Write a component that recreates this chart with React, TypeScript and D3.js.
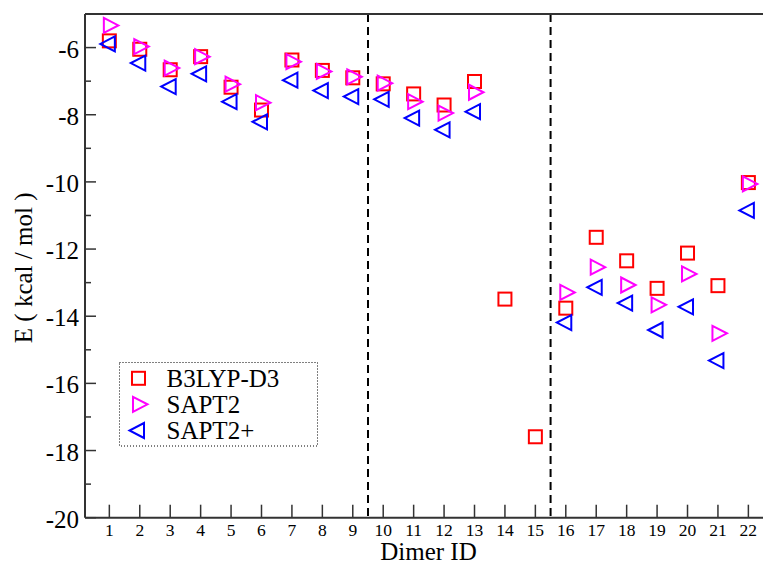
import React from "react";
import * as d3 from "d3";

// Interaction energies (kcal/mol) per dimer
const dimerIds = [1, 2, 3, 4, 5, 6, 7, 8, 9, 10, 11, 12, 13, 14, 15, 16, 17, 18, 19, 20, 21, 22];
const b3lypD3: (number | null)[] = [
  -5.80, -6.05, -6.66, -6.27, -7.18, -7.86, -6.37, -6.68, -6.90, -7.08, -7.38,
  -7.71, -7.01, -13.49, -17.59, -13.76, -11.65, -12.35, -13.17, -12.12, -13.09, -10.02,
];
const sapt2: (number | null)[] = [
  -5.34, -5.97, -6.61, -6.27, -7.09, -7.64, -6.42, -6.71, -6.87, -7.06, -7.61,
  -7.95, -7.33, null, null, -13.29, -12.54, -13.07, -13.66, -12.74, -14.51, -10.06,
];
const sapt2Plus: (number | null)[] = [
  -5.89, -6.46, -7.16, -6.78, -7.61, -8.21, -6.97, -7.28, -7.46, -7.54, -8.10,
  -8.45, -7.91, null, null, -14.19, -13.14, -13.61, -14.41, -13.72, -15.32, -10.85,
];
const separators = [9.5, 15.5];
const yMajorTicks = [-20, -18, -16, -14, -12, -10, -8, -6];
const yMinorTicks = [-19, -17, -15, -13, -11, -9, -7, -5];
const seriesNames = ["B3LYP-D3", "SAPT2", "SAPT2+"];

const W = 763;
const H = 565;
const left = 85;
const top = 14;
const bottom = 517.7;
const xDomain: [number, number] = [0.2, 22.8];
const plotRight = left + (xDomain[1] - xDomain[0]) * 30.43;

const font = "Liberation Serif, DejaVu Serif, serif";
const axisColor = "#333";

type Shape = "square" | "right" | "left";

function Marker({ shape, x, y, color }: { shape: Shape; x: number; y: number; color: string }) {
  if (shape === "square") {
    return <rect x={x - 6.5} y={y - 6.5} width={13} height={13} fill="none" stroke={color} strokeWidth={2} />;
  }
  const pts =
    shape === "right"
      ? [[x - 5.5, y - 7.5], [x - 5.5, y + 7.5], [x + 9, y]]
      : [[x + 5.5, y - 7.5], [x + 5.5, y + 7.5], [x - 9, y]];
  return (
    <polygon
      points={pts.map((p) => p.join(",")).join(" ")}
      fill="none"
      stroke={color}
      strokeWidth={2}
      strokeLinejoin="miter"
    />
  );
}

export default function App() {
  const x = d3.scaleLinear().domain(xDomain).range([left, plotRight]);
  const y = d3.scaleLinear().domain([-20, -5]).range([bottom, top]);

  const series: { name: string; values: (number | null)[]; shape: Shape; color: string }[] = [
    { name: seriesNames[0], values: b3lypD3, shape: "square", color: "#ff0000" },
    { name: seriesNames[1], values: sapt2, shape: "right", color: "#ff00ff" },
    { name: seriesNames[2], values: sapt2Plus, shape: "left", color: "#0000ff" },
  ];

  const legendX = 119.5;
  const legendY = 362.5;
  const legendRows = [378.3, 404.3, 430.5];
  const textStyle = { fontFamily: font };

  return (
    <svg
      width={W}
      height={H}
      style={{ position: "absolute", left: 0, top: 0, background: "#fff", fontFamily: font }}
    >
      <rect width={W} height={H} fill="#fff" />

      {/* separators between dimer groups */}
      {separators.map((s) => (
        <line
          key={s}
          x1={x(s)}
          x2={x(s)}
          y1={top}
          y2={bottom}
          stroke="#000"
          strokeWidth={2}
          strokeDasharray="8,5"
        />
      ))}

      {/* frame */}
      <line x1={left} x2={plotRight} y1={top} y2={top} stroke={axisColor} strokeWidth={2} />
      <line x1={left} x2={left} y1={top} y2={bottom} stroke={axisColor} strokeWidth={2} />
      <line x1={left} x2={plotRight} y1={bottom} y2={bottom} stroke={axisColor} strokeWidth={2} />

      {/* x ticks */}
      {dimerIds.map((d) => (
        <g key={d}>
          <line x1={x(d)} x2={x(d)} y1={bottom} y2={bottom - 13} stroke={axisColor} strokeWidth={1.5} />
          <text x={x(d)} y={536} fontSize={17.5} textAnchor="middle" fill="#000" style={textStyle}>
            {d}
          </text>
        </g>
      ))}

      {/* y ticks */}
      {yMajorTicks.map((t) => (
        <g key={t}>
          <line x1={left} x2={left + 11} y1={y(t)} y2={y(t)} stroke={axisColor} strokeWidth={1.5} />
          <text x={79} y={y(t) + 10} fontSize={25} textAnchor="end" fill="#000" style={textStyle}>
            {t}
          </text>
        </g>
      ))}
      {yMinorTicks.map((t) => (
        <line key={t} x1={left} x2={left + 6} y1={y(t)} y2={y(t)} stroke={axisColor} strokeWidth={1.5} />
      ))}

      {/* axis titles */}
      <text x={(left + 772) / 2} y={560} fontSize={25} textAnchor="middle" fill="#000" style={textStyle}>
        Dimer ID
      </text>
      <text
        transform={`translate(32, ${(top + bottom) / 2 + 2}) rotate(-90)`}
        fontSize={25}
        textAnchor="middle"
        fill="#000"
        style={textStyle}
      >
        E ( kcal / mol )
      </text>

      {/* data points */}
      {series.map((s) =>
        s.values.map((v, i) =>
          v === null ? null : (
            <Marker key={`${s.name}-${i}`} shape={s.shape} x={x(dimerIds[i])} y={y(v)} color={s.color} />
          )
        )
      )}

      {/* legend */}
      <rect
        x={legendX}
        y={legendY}
        width={198}
        height={83.5}
        fill="#fff"
        stroke="#000"
        strokeWidth={1}
        strokeDasharray="1,2"
      />
      {series.map((s, i) => (
        <g key={s.name}>
          <Marker shape={s.shape} x={138.5} y={legendRows[i]} color={s.color} />
          <text x={166.5} y={legendRows[i] + 8.5} fontSize={25} fill="#000" style={textStyle}>
            {s.name}
          </text>
        </g>
      ))}
    </svg>
  );
}
